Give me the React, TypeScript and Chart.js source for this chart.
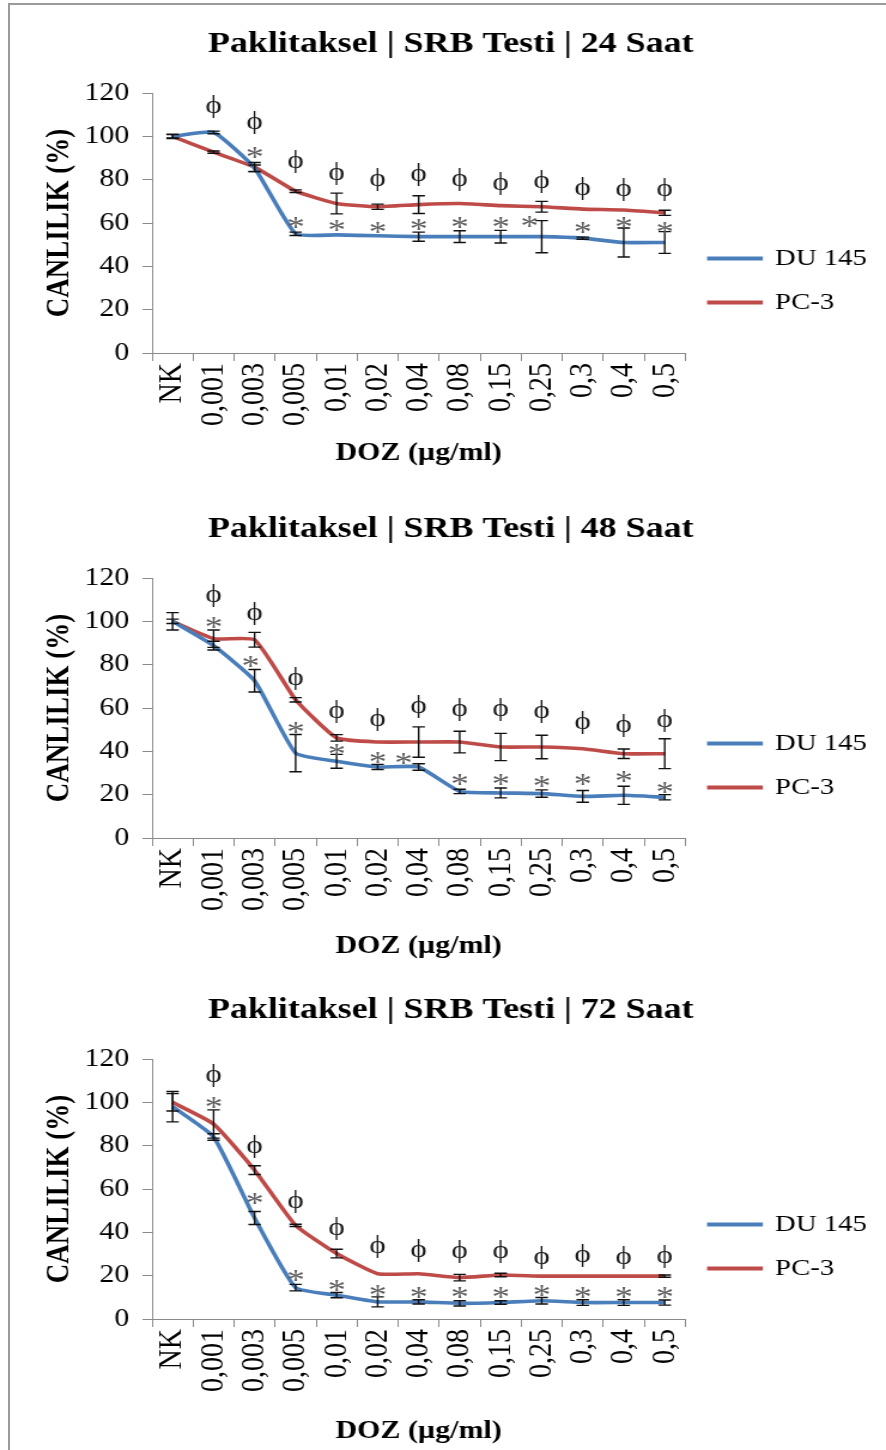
import React, { useEffect, useRef } from 'react';
import { Chart, registerables } from 'chart.js';

Chart.register(...registerables);

const SERIF = "'Liberation Serif', 'Times New Roman', serif";
const PHI_FONT = "'Liberation Serif', 'DejaVu Serif', serif";
const BLUE = '#4A7EBB';
const RED = '#BE4B48';
const AXIS = '#8a8a8a';

// ---------- data ----------
const categories = ['NK', '0,001', '0,003', '0,005', '0,01', '0,02', '0,04', '0,08', '0,15', '0,25', '0,3', '0,4', '0,5'];
const seriesNames = ['DU 145', 'PC-3'];
const titles = ['Paklitaksel | SRB Testi | 24 Saat', 'Paklitaksel | SRB Testi | 48 Saat', 'Paklitaksel | SRB Testi | 72 Saat'];
const yTicks = [0, 20, 40, 60, 80, 100, 120];

// 24 h
const du24 = [100, 101.8, 85.3, 55, 54.5, 54.1, 53.7, 53.7, 53.7, 53.7, 53, 51, 51];
const du24Err = [1, 0.6, 1.5, 0.8, 0, 0, 2.1, 2.7, 2.9, 7.4, 0.5, 6.7, 5];
const pc24 = [100, 92.7, 85.8, 74.7, 69, 67.5, 68.5, 69, 68, 67.5, 66.4, 66, 64.7];
const pc24Err = [0.8, 0.5, 2.1, 0.6, 4.8, 1.2, 4.1, 0, 0, 2.5, 0, 0, 1.2];
const phi24 = [null, 114, 106.4, 88.4, 82.7, 80, 82.3, 80, 78.2, 79.2, 75.9, 75.4, 75.4];
const ast24 = [null, null, 93.1, 60.9, 59.4, 58.8, 59.8, 60.9, 60.9, 61.4, 58.8, 61, 58.8];
const ast24Shift = [0, 0, 0, 0, 0, 0, 0, 0, 0, -0.3, 0, 0, 0];

// 48 h
const du48 = [100, 88.8, 72.6, 39.2, 35.4, 32.8, 32.8, 21.5, 20.8, 20.5, 19.2, 19.7, 18.8];
const du48Err = [4, 2, 5.2, 8.6, 3.2, 1.2, 1.5, 1, 2.3, 1.7, 2.7, 4.2, 1.2];
const pc48 = [100, 92, 91.5, 63.8, 46.2, 44.3, 44.3, 44.3, 42, 42, 41.2, 38.9, 38.9];
const pc48Err = [1, 4, 3.4, 1, 1.5, 0, 7, 5, 6.3, 5.4, 0, 2.2, 6.9];
const phi48 = [null, 111.8, 103.8, 73.4, 58.5, 54.9, 60.8, 59.5, 59.5, 58.5, 53.1, 51.8, 54.3];
const ast48 = [null, 100, 82.3, 51.5, 41.5, 37.7, 37.2, 27.7, 27.7, 26.6, 27.7, 29.2, 24.2];
const ast48Shift = [0, 0, -0.1, 0, 0, 0, -0.37, 0, 0, 0, 0, 0, 0];

// 72 h
const du72 = [98, 84, 46.6, 14.5, 11, 7.9, 7.9, 7.2, 7.6, 8.4, 7.6, 7.6, 7.6];
const du72Err = [7, 1.5, 3, 1.5, 1.2, 2.3, 1, 1.2, 0.8, 1.5, 1.3, 1.3, 1.2];
const pc72 = [100, 90, 68.7, 43.2, 30.2, 20.9, 20.9, 19.1, 20.3, 19.8, 19.8, 19.8, 19.8];
const pc72Err = [4, 6.5, 2, 0.5, 2, 0, 0, 1.5, 0.8, 0, 0, 0, 0.5];
const phi72 = [null, 112.5, 79.8, 54.2, 42, 33.6, 31.6, 31, 31, 28.5, 29.5, 28.5, 29];
const ast72 = [null, 100.8, 56.5, 20.9, 16.3, 13.7, 13, 12.7, 13, 13.7, 13, 13, 13];
const ast72Shift = [0, 0, 0, 0, 0, 0, 0, 0, 0, 0, 0, 0, 0];

// ---------- layout constants (internal canvas px; canvas is stretched horizontally) ----------
const CANVAS_W = 740;
const CSS_W = 886;
const H = 484;

type Panel = {
  title: string;
  du: number[]; duErr: number[];
  pc: number[]; pcErr: number[];
  phi: (number | null)[]; ast: (number | null)[]; astShift: number[];
  top: number; xTitleY: number;
};

const panels: Panel[] = [
  { title: titles[0], du: du24, duErr: du24Err, pc: pc24, pcErr: pc24Err, phi: phi24, ast: ast24, astShift: ast24Shift, top: 0, xTitleY: 454 },
  { title: titles[1], du: du48, duErr: du48Err, pc: pc48, pcErr: pc48Err, phi: phi48, ast: ast48, astShift: ast48Shift, top: 485, xTitleY: 462 },
  { title: titles[2], du: du72, duErr: du72Err, pc: pc72, pcErr: pc72Err, phi: phi72, ast: ast72, astShift: ast72Shift, top: 966, xTitleY: 466 },
];

function makeErrorBars(errs: number[][]) {
  return {
    id: 'errorBars',
    afterDatasetsDraw(chart: any) {
      const { ctx } = chart;
      const y = chart.scales.y;
      ctx.save();
      ctx.strokeStyle = '#111';
      ctx.lineWidth = 1.4;
      errs.forEach((e, di) => {
        const meta = chart.getDatasetMeta(di);
        const vals = chart.data.datasets[di].data as number[];
        meta.data.forEach((pt: any, i: number) => {
          const err = e[i];
          if (!err) return;
          const v = vals[i];
          const yt = y.getPixelForValue(v + err);
          const yb = y.getPixelForValue(v - err);
          const x = pt.x;
          const cap = 5.2;
          ctx.beginPath();
          ctx.moveTo(x, yt); ctx.lineTo(x, yb);
          ctx.moveTo(x - cap, yt); ctx.lineTo(x + cap, yt);
          ctx.moveTo(x - cap, yb); ctx.lineTo(x + cap, yb);
          ctx.stroke();
        });
      });
      ctx.restore();
    },
  };
}

function makeMarkers(phi: (number | null)[], ast: (number | null)[], shift: number[]) {
  return {
    id: 'sigMarkers',
    afterDatasetsDraw(chart: any) {
      const { ctx } = chart;
      const x = chart.scales.x;
      const y = chart.scales.y;
      const step = x.getPixelForValue(1) - x.getPixelForValue(0);
      ctx.save();
      ctx.textAlign = 'center';
      ctx.textBaseline = 'alphabetic';
      ctx.font = `26px ${PHI_FONT}`;
      ctx.fillStyle = '#1c1c1c';
      phi.forEach((v, i) => {
        if (v == null) return;
        const px = x.getPixelForValue(i);
        const py = y.getPixelForValue(v);
        ctx.fillText('ϕ', px, py + 6.5);
      });
      ctx.font = `30px ${SERIF}`;
      ctx.fillStyle = '#5e5e5e';
      ast.forEach((v, i) => {
        if (v == null) return;
        const px = x.getPixelForValue(i) + shift[i] * step;
        const py = y.getPixelForValue(v);
        ctx.fillText('*', px, py + 15);
      });
      ctx.restore();
    },
  };
}

function ChartPanel({ panel }: { panel: Panel }) {
  const ref = useRef<HTMLCanvasElement>(null);
  useEffect(() => {
    const canvas = ref.current;
    if (!canvas) return;
    Chart.defaults.font.family = SERIF;
    const chart = new Chart(canvas, {
      type: 'line',
      data: {
        labels: categories,
        datasets: [
          { label: seriesNames[0], data: panel.du, borderColor: BLUE, backgroundColor: BLUE, borderWidth: 3.6, pointRadius: 0, pointHoverRadius: 0, tension: 0.15 },
          { label: seriesNames[1], data: panel.pc, borderColor: RED, backgroundColor: RED, borderWidth: 3.6, pointRadius: 0, pointHoverRadius: 0, tension: 0.15 },
        ],
      },
      options: {
        responsive: false,
        animation: false,
        devicePixelRatio: 1,
        events: [],
        layout: { padding: { left: 19, right: 6, top: 0, bottom: 0 } },
        plugins: {
          title: {
            display: true,
            text: panel.title,
            color: '#000',
            font: { family: SERIF, size: 30, weight: 'bold' },
            padding: { top: 26.5, bottom: 30.5 },
          },
          legend: {
            position: 'right',
            align: 'center',
            title: { display: true, text: '', font: { size: 10 }, padding: { top: 65, bottom: 0 } },
            labels: {
              boxWidth: 43,
              boxHeight: 0.5,
              padding: 20,
              color: '#000',
              font: { family: SERIF, size: 24 },
            },
          },
          tooltip: { enabled: false },
        },
        scales: {
          x: {
            type: 'category',
            offset: true,
            grid: { display: true, offset: true, drawOnChartArea: false, drawTicks: true, tickLength: 8, color: AXIS },
            border: { display: true, color: AXIS, width: 1 },
            ticks: { autoSkip: false, maxRotation: 90, minRotation: 90, padding: 2, color: '#000', font: { family: SERIF, size: 28 } },
            title: {
              display: true,
              text: 'DOZ (µg/ml)',
              color: '#000',
              font: { family: SERIF, size: 25, weight: 'bold' },
              padding: { top: 0, bottom: H - panel.xTitleY - 15 },
            },
            afterFit: (s: any) => { s.height = H - 353; },
          },
          y: {
            min: yTicks[0],
            max: yTicks[yTicks.length - 1],
            ticks: { stepSize: yTicks[1] - yTicks[0], padding: 11, color: '#000', font: { family: SERIF, size: 25 } },
            grid: { drawOnChartArea: false, drawTicks: true, tickLength: 8, color: AXIS },
            border: { display: true, color: AXIS, width: 1 },
            title: {
              display: true,
              text: 'CANLILIK (%)',
              color: '#000',
              font: { family: SERIF, size: 27, weight: 'bold' },
              padding: { top: 14.8, bottom: 0 },
            },
            afterFit: (s: any) => { s.width = 108; },
          },
        },
      } as any,
      plugins: [makeErrorBars([panel.duErr, panel.pcErr]), makeMarkers(panel.phi, panel.ast, panel.astShift)],
    });
    return () => chart.destroy();
  }, [panel]);
  return (
    <canvas
      ref={ref}
      width={CANVAS_W}
      height={H}
      style={{ position: 'absolute', left: 0, top: panel.top, width: CSS_W, height: H }}
    />
  );
}

export default function App() {
  return (
    <div style={{ position: 'absolute', left: 0, top: 0, width: 886, height: 1450, overflow: 'hidden', background: '#fff' }}>
      <div
        style={{
          position: 'absolute', left: 8, top: 3, width: 878, height: 1447, boxSizing: 'border-box',
          borderLeft: '2px solid #9a9a9a', borderTop: '2px solid #9a9a9a',
        }}
      />
      {panels.map((p, i) => (
        <ChartPanel key={i} panel={p} />
      ))}
    </div>
  );
}
